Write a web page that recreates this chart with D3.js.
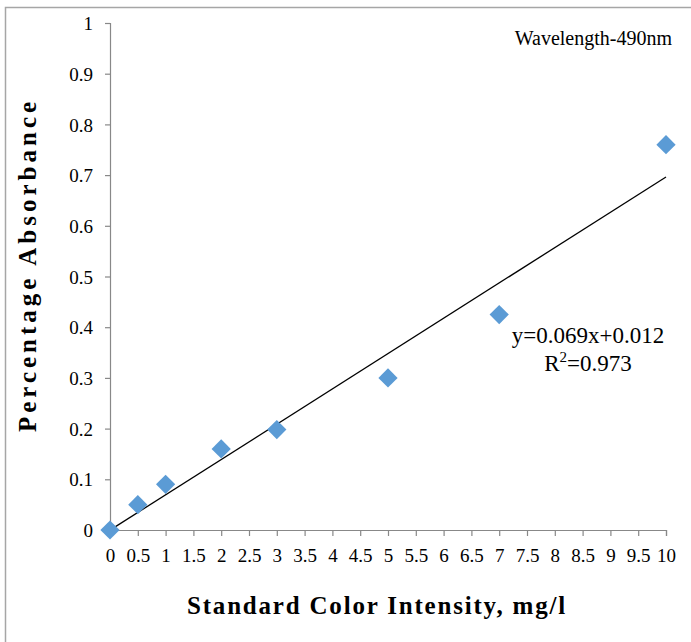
<!DOCTYPE html>
<html>
<head>
<meta charset="utf-8">
<script src="https://cdn.jsdelivr.net/npm/d3@7/dist/d3.min.js"></script>
<style>
  body { margin: 0; background: #fff; }
</style>
</head>
<body>
<div id="chart"></div>
<script>
// standard concentrations (mg/l) and measured absorbance
const concentration = [0, 0.5, 1, 2, 3, 5, 7, 10];
const absorbance    = [0, 0.05, 0.09, 0.16, 0.198, 0.30, 0.425, 0.76];
const xTicks = d3.range(0, 10.01, 0.5);
const yTicks = [0, 0.1, 0.2, 0.3, 0.4, 0.5, 0.6, 0.7, 0.8, 0.9, 1];
const eqText = "y=0.069x+0.012";
const r2Text = "0.973";

const FONT = '"Liberation Serif"';
const W = 691, H = 642;
const margin = { top: 23, right: 25, bottom: 112, left: 110 };
const width  = 666 - margin.left;
const height = 530 - margin.top;

const svg = d3.select("#chart").append("svg")
    .attr("width", W)
    .attr("height", H);

// outer frame
svg.append("rect")
    .attr("x", 5.5).attr("y", 7.5)
    .attr("width", W + 10).attr("height", H + 10)
    .attr("fill", "none")
    .attr("stroke", "#a6a6a6")
    .attr("stroke-width", 1.5);

const g = svg.append("g")
    .attr("transform", `translate(${margin.left},${margin.top})`);

const x = d3.scaleLinear().domain([0, 10]).range([0, width]);
const y = d3.scaleLinear().domain([0, 1]).range([height, 0]);

const fmt = d => d3.format("~g")(+d.toFixed(2));

// axes
const xAxis = g.append("g")
    .attr("transform", `translate(0,${height})`)
    .call(d3.axisBottom(x).tickValues(xTicks).tickSize(6).tickSizeOuter(6).tickFormat(fmt));
xAxis.selectAll("text").attr("dy", 0).attr("y", 32);

const yAxis = g.append("g")
    .call(d3.axisLeft(y).tickValues(yTicks).tickSize(5).tickSizeOuter(5).tickFormat(fmt));
yAxis.selectAll("text").attr("x", -17).attr("dy", "0.35em");

[xAxis, yAxis].forEach(a => {
    a.selectAll("text")
        .attr("fill", "#000")
        .style("font-family", FONT)
        .style("font-size", "19px");
    a.selectAll("path, line").attr("stroke", "#888").attr("stroke-width", 1.2);
});

// linear trend line (least squares over the points)
const mx = d3.mean(concentration), my = d3.mean(absorbance);
const slope = d3.sum(concentration, (c, i) => (c - mx) * (absorbance[i] - my)) /
              d3.sum(concentration, c => (c - mx) * (c - mx));
const intercept = my - slope * mx;

g.append("line")
    .attr("x1", x(0)).attr("y1", y(intercept))
    .attr("x2", x(10)).attr("y2", y(intercept + slope * 10))
    .attr("stroke", "#000")
    .attr("stroke-width", 1.3);

// points
const pts = concentration.map((c, i) => ({ x: c, y: absorbance[i] }));
g.selectAll(".pt")
    .data(pts)
    .enter().append("path")
    .attr("class", "pt")
    .attr("d", d3.symbol(d3.symbolSquare).size(185))
    .attr("transform", d => `translate(${x(d.x)},${y(d.y)}) rotate(45)`)
    .attr("fill", "#5b9bd5");

// annotations
svg.append("text")
    .attr("x", 672).attr("y", 45)
    .attr("text-anchor", "end")
    .style("font-family", FONT)
    .style("font-size", "20px")
    .text("Wavelength-490nm");

svg.append("text")
    .attr("x", 588).attr("y", 343)
    .attr("text-anchor", "middle")
    .style("font-family", FONT)
    .style("font-size", "23px")
    .text(eqText);

const r2 = svg.append("text")
    .attr("x", 588).attr("y", 371)
    .attr("text-anchor", "middle")
    .style("font-family", FONT)
    .style("font-size", "23px");
r2.append("tspan").text("R");
r2.append("tspan").attr("dy", -9).style("font-size", "15px").text("2");
r2.append("tspan").attr("dy", 9).text("=" + r2Text);

// axis titles
svg.append("text")
    .attr("x", 377).attr("y", 614)
    .attr("text-anchor", "middle")
    .style("font-family", FONT)
    .style("font-size", "25px")
    .style("font-weight", "bold")
    .style("letter-spacing", "1.8px")
    .text("Standard Color Intensity, mg/l");

svg.append("text")
    .attr("transform", "translate(36,265) rotate(-90)")
    .attr("text-anchor", "middle")
    .style("font-family", FONT)
    .style("font-size", "25px")
    .style("font-weight", "bold")
    .style("letter-spacing", "4px")
    .text("Percentage Absorbance");
</script>
</body>
</html>
